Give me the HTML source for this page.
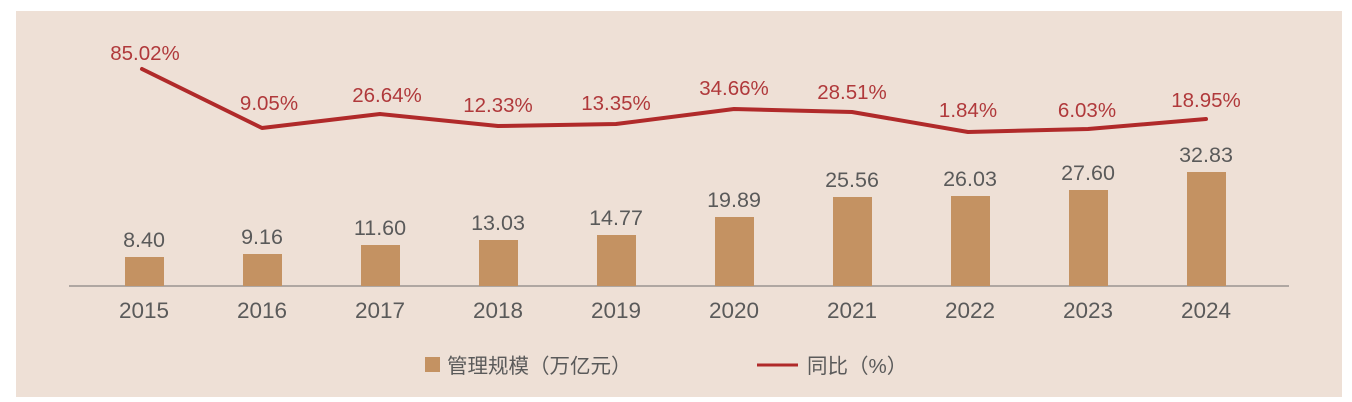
<!DOCTYPE html>
<html><head><meta charset="utf-8"><style>
html,body{margin:0;padding:0;background:#fff;}
svg{display:block;}
text{font-family:"Liberation Sans","Noto Sans CJK SC",sans-serif;}
</style></head><body>
<svg width="1352" height="402" viewBox="0 0 1352 402">
<rect x="16" y="11" width="1326" height="386" fill="#eee0d6"/>
<line x1="69" y1="286" x2="1289" y2="286" stroke="#9a9490" stroke-width="1.5"/>
<g fill="#c49262">
<rect x="125" y="257" width="39" height="29"/>
<rect x="243" y="254" width="39" height="32"/>
<rect x="361" y="245" width="39" height="41"/>
<rect x="479" y="240" width="39" height="46"/>
<rect x="597" y="235" width="39" height="51"/>
<rect x="715" y="217" width="39" height="69"/>
<rect x="833" y="197" width="39" height="89"/>
<rect x="951" y="196" width="39" height="90"/>
<rect x="1069" y="190" width="39" height="96"/>
<rect x="1187" y="172" width="39" height="114"/>
</g>
<g fill="#5a5a5a" font-size="21.5" text-anchor="middle">
<text x="144" y="247">8.40</text>
<text x="262" y="244">9.16</text>
<text x="380" y="235">11.60</text>
<text x="498" y="230">13.03</text>
<text x="616" y="225">14.77</text>
<text x="734" y="207">19.89</text>
<text x="852" y="187">25.56</text>
<text x="970" y="186">26.03</text>
<text x="1088" y="180">27.60</text>
<text x="1206" y="162">32.83</text>
</g>
<g fill="#5a5a5a" font-size="22.5" text-anchor="middle">
<text x="144" y="318">2015</text><text x="262" y="318">2016</text><text x="380" y="318">2017</text>
<text x="498" y="318">2018</text><text x="616" y="318">2019</text><text x="734" y="318">2020</text>
<text x="852" y="318">2021</text><text x="970" y="318">2022</text><text x="1088" y="318">2023</text>
<text x="1206" y="318">2024</text>
</g>
<polyline points="142,69 262,128 380,114 498,126 616,124 734,109 852,112 968,132 1088,129 1206,119" fill="none" stroke="#b02a2a" stroke-width="4" stroke-linejoin="round" stroke-linecap="round"/>
<g fill="#b0393b" font-size="20.5" text-anchor="middle">
<text x="145" y="60">85.02%</text>
<text x="269" y="110">9.05%</text>
<text x="387" y="102">26.64%</text>
<text x="498" y="112">12.33%</text>
<text x="616" y="110">13.35%</text>
<text x="734" y="95">34.66%</text>
<text x="852" y="99">28.51%</text>
<text x="968" y="117">1.84%</text>
<text x="1087" y="117">6.03%</text>
<text x="1206" y="107">18.95%</text>
</g>
<rect x="425" y="357" width="15" height="15" fill="#c49262"/>
<text x="447" y="373" font-size="20.5" fill="#5a5a5a">管理规模（万亿元）</text>
<line x1="757" y1="365" x2="798" y2="365" stroke="#b02a2a" stroke-width="3"/>
<text x="807" y="373" font-size="20.5" fill="#5a5a5a">同比（%）</text>
</svg>
</body></html>
